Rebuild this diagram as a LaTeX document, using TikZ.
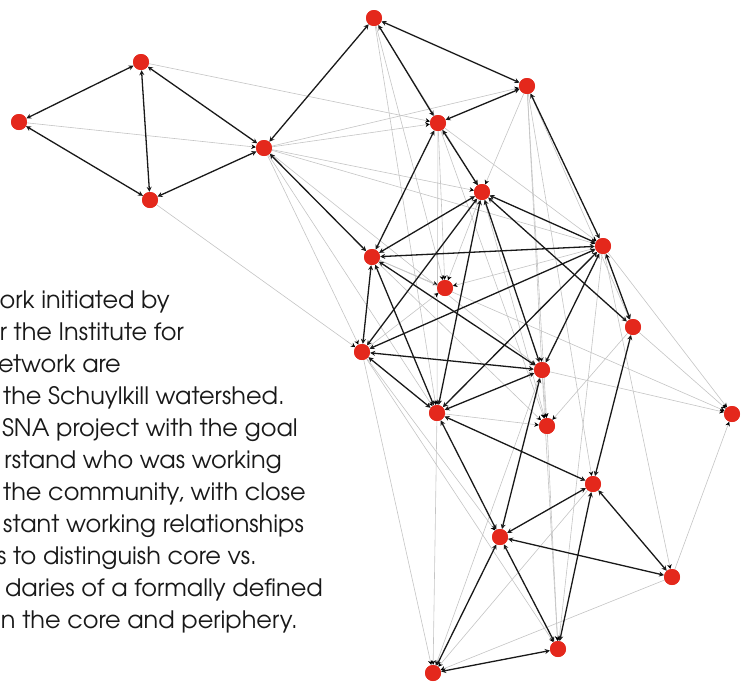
\documentclass[tikz,border=0pt]{standalone}
\usepackage{fontspec}
\setmainfont{texgyreadventor-regular.otf}
\usetikzlibrary{arrows.meta}
\definecolor{rojonodo}{RGB}{228,40,28}
\definecolor{grisclaro}{RGB}{196,196,196}

\begin{document}
\begin{tikzpicture}[x=1pt,y=-1pt,
  nodo/.style={circle,fill=rojonodo,inner sep=0pt,minimum size=16pt},
  fuerte/.style={line width=1.3pt,black!90,{Stealth[length=5pt,width=5pt]}-{Stealth[length=5pt,width=5pt]}},
  debil/.style={line width=0.6pt,grisclaro,-{Stealth[length=4.5pt,width=4.5pt,black]}},
  texto/.style={anchor=base east,inner sep=0pt,text=black!90,font=\fontsize{24}{28}\selectfont}]
  \useasboundingbox (0,0) rectangle (748,681);

  % Texto (cortado a la izquierda)
  \node[texto] (t1) at (170,308) {ork initiated by};
  \node[texto] (t2) at (184,340) {r the Institute for};
  \node[texto] (t3) at (121,372) {etwork are};
  \node[texto] (t4) at (285,404) {the Schuylkill watershed.};
  \node[texto] (t5) at (298,436) {SNA project with the goal};
  \node[texto] (t6) at (282,468) {rstand who was working};
  \node[texto] (t7) at (306,500) {the community, with close};
  \node[texto] (t8) at (304,532) {stant working relationships};
  \node[texto] (t9) at (257,564) {s to distinguish core vs.};
  \node[texto] (t10) at (323,596) {daries of a formally defined};
  \node[texto] (t11) at (298,628) {n the core and periphery.};

  % Nodos
  \node[nodo] (n1) at (19,122) {};
  \node[nodo] (n2) at (141,62) {};
  \node[nodo] (n3) at (150,200) {};
  \node[nodo] (n4) at (264,148) {};
  \node[nodo] (n5) at (374,18) {};
  \node[nodo] (n6) at (527,86) {};
  \node[nodo] (n7) at (438,123) {};
  \node[nodo] (n8) at (482,192) {};
  \node[nodo] (n9) at (372,257) {};
  \node[nodo] (n10) at (603,246) {};
  \node[nodo] (n11) at (445,288) {};
  \node[nodo] (n12) at (633,327) {};
  \node[nodo] (n13) at (362,352) {};
  \node[nodo] (n14) at (542,370) {};
  \node[nodo] (n15) at (437,413) {};
  \node[nodo] (n16) at (547,426) {};
  \node[nodo] (n17) at (732,414) {};
  \node[nodo] (n18) at (593,484) {};
  \node[nodo] (n19) at (500,537) {};
  \node[nodo] (n20) at (672,577) {};
  \node[nodo] (n21) at (558,649) {};
  \node[nodo] (n22) at (433,673) {};

  % Aristas debiles
  \draw[debil] (n1) -- (n4);  \draw[debil] (n2) -- (n7);  \draw[debil] (n3) -- (n13);
  \draw[debil] (n4) -- (n6);  \draw[debil] (n4) -- (n7);  \draw[debil] (n4) -- (n8);
  \draw[debil] (n4) -- (n10); \draw[debil] (n4) -- (n13); \draw[debil] (n4) -- (n15);
  \draw[debil] (n4) -- (n14); \draw[debil] (n5) -- (n11); \draw[debil] (n5) -- (n15);
  \draw[debil] (n5) -- (n8);  \draw[debil] (n6) -- (n8);  \draw[debil] (n6) -- (n14);
  \draw[debil] (n6) -- (n16); \draw[debil] (n6) -- (n18); \draw[debil] (n6) -- (n12);
  \draw[debil] (n7) -- (n11); \draw[debil] (n7) -- (n15); \draw[debil] (n7) -- (n10);
  \draw[debil] (n7) -- (n16); \draw[debil] (n9) -- (n11); \draw[debil] (n9) -- (n17);
  \draw[debil] (n9) -- (n16); \draw[debil] (n10) -- (n11); \draw[debil] (n10) -- (n17);
  \draw[debil] (n10) -- (n20); \draw[debil] (n10) -- (n21); \draw[debil] (n12) -- (n17);
  \draw[debil] (n12) -- (n16); \draw[debil] (n13) -- (n11); \draw[debil] (n13) -- (n19);
  \draw[debil] (n13) -- (n21); \draw[debil] (n13) -- (n22); \draw[debil] (n14) -- (n16);
  \draw[debil] (n14) -- (n17); \draw[debil] (n14) -- (n21); \draw[debil] (n14) -- (n22);
  \draw[debil] (n15) -- (n22); \draw[debil] (n15) -- (n16); \draw[debil] (n16) -- (n21);
  \draw[debil] (n18) -- (n22); \draw[debil] (n20) -- (n22); \draw[debil] (n20) -- (n17);
  \draw[debil] (n8) -- (n16);  \draw[debil] (n8) -- (n11);

  % Aristas fuertes
  \draw[fuerte] (n1) -- (n2);  \draw[fuerte] (n1) -- (n3);  \draw[fuerte] (n2) -- (n3);
  \draw[fuerte] (n2) -- (n4);  \draw[fuerte] (n3) -- (n4);  \draw[fuerte] (n4) -- (n5);
  \draw[fuerte] (n4) -- (n9);  \draw[fuerte] (n5) -- (n6);  \draw[fuerte] (n5) -- (n7);
  \draw[fuerte] (n6) -- (n7);  \draw[fuerte] (n6) -- (n10); \draw[fuerte] (n7) -- (n8);
  \draw[fuerte] (n7) -- (n9);  \draw[fuerte] (n8) -- (n9);  \draw[fuerte] (n8) -- (n10);
  \draw[fuerte] (n8) -- (n12); \draw[fuerte] (n8) -- (n13); \draw[fuerte] (n8) -- (n14);
  \draw[fuerte] (n8) -- (n15); \draw[fuerte] (n9) -- (n10); \draw[fuerte] (n9) -- (n13);
  \draw[fuerte] (n9) -- (n14); \draw[fuerte] (n9) -- (n15); \draw[fuerte] (n10) -- (n12);
  \draw[fuerte] (n10) -- (n13); \draw[fuerte] (n10) -- (n14); \draw[fuerte] (n10) -- (n15);
  \draw[fuerte] (n13) -- (n14); \draw[fuerte] (n13) -- (n15); \draw[fuerte] (n14) -- (n15);
  \draw[fuerte] (n12) -- (n18); \draw[fuerte] (n14) -- (n19); \draw[fuerte] (n15) -- (n18);
  \draw[fuerte] (n15) -- (n19); \draw[fuerte] (n18) -- (n19); \draw[fuerte] (n18) -- (n20);
  \draw[fuerte] (n18) -- (n21); \draw[fuerte] (n19) -- (n20); \draw[fuerte] (n19) -- (n21);
  \draw[fuerte] (n19) -- (n22); \draw[fuerte] (n21) -- (n22);

  % Nodos encima
  \foreach \n in {n1,n2,n3,n4,n5,n6,n7,n8,n9,n10,n11,n12,n13,n14,n15,n16,n17,n18,n19,n20,n21,n22}
    \fill[rojonodo] (\n) circle (8pt);
\end{tikzpicture}
\end{document}
